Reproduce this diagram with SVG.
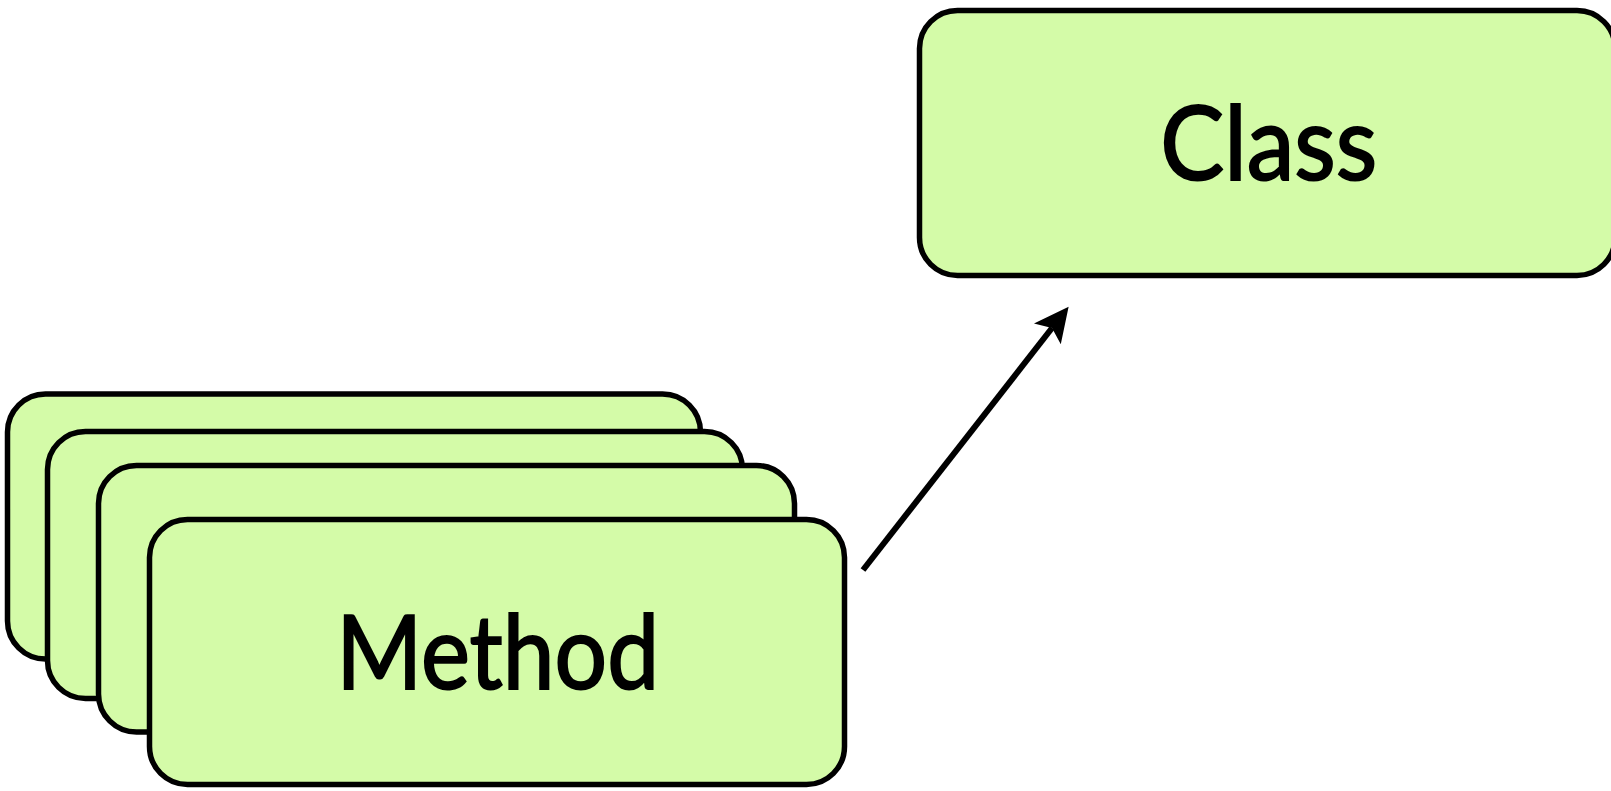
<svg xmlns="http://www.w3.org/2000/svg" width="1611" height="791" viewBox="0 0 1611 791">
  <style>
    .box { fill: #d4fba8; stroke: #000; stroke-width: 5.5; }
    .label { font-family: Lato, "Liberation Sans", sans-serif; font-size: 102px; fill: #000; stroke: #000; stroke-width: 2; text-anchor: middle; }
    .conn { stroke: #000; stroke-width: 6; fill: none; }
  </style>
  <defs>
    <marker id="arrow" markerUnits="userSpaceOnUse" viewBox="-36 -18 37 36" markerWidth="37" markerHeight="36" refX="-27" refY="0" orient="auto">
      <path d="M0,0 L-34.5,-17 L-27,0 L-34.5,17 Z" fill="#000"/>
    </marker>
  </defs>
  <rect width="1611" height="791" fill="#fff"/>
  <g id="class-node">
    <rect class="box" x="919.5" y="10.5" width="695.5" height="265" rx="38" ry="38"/>
    <text class="label" x="1268.7" y="180" textLength="217" lengthAdjust="spacingAndGlyphs">Class</text>
  </g>
  <g id="method-stack-1">
    <rect class="box" x="7.5" y="394" width="693" height="265" rx="38" ry="38"/>
  </g>
  <g id="method-stack-2">
    <rect class="box" x="47.5" y="431.5" width="695" height="267" rx="38" ry="38"/>
  </g>
  <g id="method-stack-3">
    <rect class="box" x="98.5" y="465.5" width="696" height="266.5" rx="38" ry="38"/>
  </g>
  <g id="method-node">
    <rect class="box" x="149.5" y="519.5" width="695" height="265" rx="38" ry="38"/>
    <text class="label" x="497.7" y="689.3" textLength="323" lengthAdjust="spacingAndGlyphs">Method</text>
  </g>
  <g id="connectors">
    <path class="conn" d="M863,570 L1052,328" marker-end="url(#arrow)"/>
  </g>
</svg>
